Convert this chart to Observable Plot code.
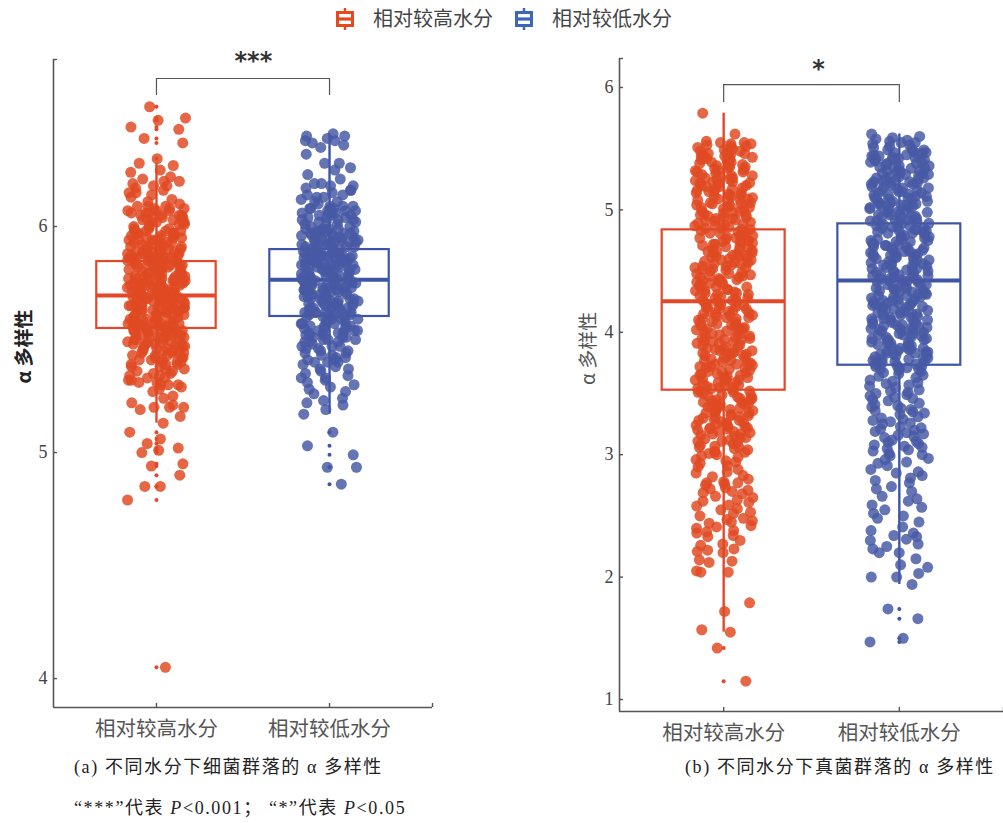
<!DOCTYPE html>
<html>
<head>
<meta charset="utf-8">
<script src="https://cdn.jsdelivr.net/npm/d3@7"></script>
<script src="https://cdn.jsdelivr.net/npm/@observablehq/plot@0.6"></script>
<style>
  html, body { margin: 0; padding: 0; background: #fff; overflow: hidden; }
  #wrap { position: relative; width: 1003px; height: 823px; }
  .abs { position: absolute; white-space: nowrap; }
  .cap { font-family: "Liberation Serif", "Noto Sans CJK SC", serif; font-size: 18px; color: #222; letter-spacing: 1.6px; }
  .cap .cjk { font-family: "Noto Sans CJK SC", sans-serif; }
  .leg { font-family: "Noto Sans CJK SC", sans-serif; font-size: 20px; color: #444; }
</style>
</head>
<body>
<div id="wrap"></div>
<script>
// ---------- data ----------
const groups = ["相对较高水分", "相对较低水分"];
const seriesColors = ["#e04a22", "#4759a5"];
const boxColors = ["#e4472a", "#3d55a5"];
const legendColors = ["#e8481f", "#3a66bb"];

// (a) bacterial alpha diversity
const aHigh = [
6.53,6.48,6.47,6.44,6.43,6.39,6.37,6.30,
6.28,6.27,6.25,6.24,6.22,6.21,6.20,6.20,
6.19,6.18,6.18,6.17,6.16,6.15,6.15,6.14,6.13,6.12,6.11,6.10,
6.09,6.09,6.08,6.08,6.07,6.07,6.06,6.06,6.05,6.05,6.05,6.04,6.04,6.03,6.03,6.02,6.02,6.01,6.01,6.00,6.00,6.07,
5.99,5.99,5.98,5.98,5.97,5.97,5.97,5.96,5.96,5.95,5.95,5.95,5.94,5.94,5.93,5.93,5.93,5.92,5.92,5.91,5.91,5.91,5.90,5.90,5.90,5.96,5.94,5.98,
5.89,5.89,5.89,5.88,5.88,5.88,5.87,5.87,5.87,5.86,5.86,5.86,5.85,5.85,5.85,5.84,5.84,5.84,5.83,5.83,5.83,5.82,5.82,5.82,5.81,5.81,5.81,5.80,5.80,5.80,5.86,5.83,
5.79,5.79,5.79,5.78,5.78,5.78,5.77,5.77,5.77,5.76,5.76,5.76,5.76,5.75,5.75,5.75,5.75,5.74,5.74,5.74,5.73,5.73,5.73,5.73,5.72,5.72,5.72,5.71,5.71,5.71,5.71,5.70,5.70,5.70,
5.69,5.69,5.69,5.69,5.68,5.68,5.68,5.67,5.67,5.67,5.67,5.66,5.66,5.66,5.65,5.65,5.65,5.65,5.64,5.64,5.64,5.63,5.63,5.63,5.63,5.62,5.62,5.62,5.61,5.61,5.61,5.60,5.60,5.60,
5.59,5.59,5.59,5.58,5.58,5.58,5.57,5.57,5.57,5.57,5.56,5.56,5.56,5.55,5.55,5.55,5.54,5.54,5.54,5.54,5.53,5.53,5.53,5.52,5.52,5.52,5.51,5.51,5.51,5.50,5.50,5.50,
5.49,5.49,5.49,5.48,5.48,5.48,5.47,5.47,5.47,5.46,5.46,5.45,5.45,5.45,5.44,5.44,5.44,5.43,5.43,5.42,5.42,5.42,5.41,5.41,5.40,5.40,
5.39,5.39,5.38,5.37,5.37,5.36,5.35,5.35,5.34,5.33,5.33,5.32,5.31,5.31,5.30,5.30,
5.29,5.28,5.27,5.25,5.24,5.22,5.21,5.20,5.20,5.20,
5.19,5.16,5.13,
5.09,5.06,5.04,5.02,5.01,5.00,4.95,4.94,4.90,4.85,4.85,4.79,4.05,
6.09,6.08,6.06,6.05,6.04,6.03,6.02,6.01,
5.99,5.98,5.97,5.96,5.95,5.94,5.93,5.92,5.91,5.90,
5.89,5.88,5.87,5.87,5.86,5.85,5.85,5.84,5.83,5.83,5.82,5.81,5.80,5.88,
5.79,5.78,5.77,5.77,5.76,5.75,5.75,5.74,5.73,5.73,5.72,5.71,5.70,5.78,
5.69,5.68,5.67,5.67,5.66,5.65,5.65,5.64,5.63,5.63,5.62,5.61,5.60,5.68,
5.59,5.58,5.57,5.56,5.56,5.55,5.54,5.53,5.52,5.52,5.51,5.50,
5.49,5.48,5.47,5.46,5.44,5.43,5.41,5.40,
5.39,5.38,5.36,5.34,5.32,5.30];
const aLow = [
6.41,6.40,6.40,6.39,6.38,6.38,6.37,6.36,6.35,6.32,
6.28,6.28,6.26,6.25,6.23,6.21,
6.19,6.18,6.18,6.17,6.16,6.15,6.14,6.14,6.13,6.12,6.11,6.10,
6.09,6.09,6.08,6.08,6.08,6.07,6.07,6.06,6.06,6.06,6.05,6.05,6.04,6.04,6.04,6.03,6.03,6.02,6.02,6.01,6.01,6.00,
5.99,5.99,5.99,5.98,5.98,5.98,5.97,5.97,5.97,5.96,5.96,5.96,5.95,5.95,5.95,5.94,5.94,5.94,5.93,5.93,5.93,5.92,5.92,5.92,5.91,5.91,5.91,5.90,5.90,5.90,
5.89,5.89,5.89,5.88,5.88,5.88,5.88,5.87,5.87,5.87,5.86,5.86,5.86,5.86,5.85,5.85,5.85,5.84,5.84,5.84,5.84,5.83,5.83,5.83,5.82,5.82,5.82,5.82,5.81,5.81,5.81,5.80,5.80,5.80,
5.79,5.79,5.79,5.78,5.78,5.78,5.78,5.77,5.77,5.77,5.76,5.76,5.76,5.76,5.75,5.75,5.75,5.74,5.74,5.74,5.74,5.73,5.73,5.73,5.72,5.72,5.72,5.72,5.71,5.71,5.71,5.70,5.70,5.70,
5.69,5.69,5.69,5.68,5.68,5.68,5.67,5.67,5.67,5.66,5.66,5.66,5.65,5.65,5.65,5.64,5.64,5.64,5.63,5.63,5.63,5.62,5.62,5.62,5.61,5.61,5.61,5.60,5.60,5.60,
5.59,5.59,5.58,5.58,5.57,5.57,5.56,5.56,5.56,5.55,5.55,5.54,5.54,5.53,5.53,5.53,5.52,5.52,5.51,5.51,5.50,5.50,
5.49,5.49,5.48,5.47,5.47,5.46,5.45,5.45,5.44,5.43,5.43,5.42,5.41,5.41,5.40,5.40,
5.39,5.38,5.37,5.37,5.36,5.35,5.34,5.33,5.33,5.32,5.31,5.30,
5.29,5.28,5.27,5.26,5.24,5.23,5.22,5.21,5.19,5.17,
5.09,5.03,4.99,4.935,4.935,4.86,
6.19,6.16,6.13,6.11,
6.09,6.08,6.07,6.06,6.05,6.03,6.02,6.00,
5.99,5.98,5.97,5.97,5.96,5.95,5.94,5.93,5.93,5.92,5.91,5.90,
5.89,5.88,5.87,5.87,5.86,5.85,5.85,5.84,5.83,5.83,5.82,5.81,5.80,5.86,
5.79,5.78,5.77,5.77,5.76,5.75,5.75,5.74,5.73,5.73,5.72,5.71,5.70,5.76,
5.69,5.68,5.67,5.66,5.66,5.65,5.64,5.63,5.62,5.62,5.61,5.60,
5.59,5.58,5.57,5.56,5.55,5.54,5.53,5.52,5.51,5.50,
5.49,5.47,5.46,5.44,5.42,5.40];
const aQ1 = [5.549, 5.602], aMed = [5.695, 5.765], aQ3 = [5.845, 5.898];
const aWLo = [5.13, 5.17], aWHi = [6.28, 6.41];

// (b) fungal alpha diversity
const bHigh = [
5.79,5.62,5.56,5.55,5.55,
5.54,5.54,5.53,5.52,5.52,5.51,5.50,
5.40,5.41,5.41,5.42,5.43,5.44,5.44,5.45,5.46,5.46,5.47,5.48,5.48,5.49,5.45,5.42,
5.30,5.31,5.32,5.32,5.33,5.34,5.35,5.35,5.36,5.37,5.37,5.38,5.39,5.39,5.31,5.34,
5.20,5.20,5.21,5.22,5.23,5.23,5.24,5.25,5.26,5.26,5.27,5.28,5.28,5.29,5.22,5.25,
5.10,5.11,5.11,5.12,5.13,5.14,5.14,5.15,5.16,5.17,5.17,5.18,5.19,5.19,5.12,5.15,
5.00,5.01,5.02,5.02,5.03,5.04,5.05,5.05,5.06,5.07,5.08,5.08,5.09,5.09,5.03,5.06,
4.90,4.91,4.91,4.92,4.93,4.94,4.94,4.95,4.96,4.97,4.97,4.98,4.99,4.99,4.93,4.96,
4.80,4.81,4.82,4.82,4.83,4.84,4.85,4.85,4.86,4.87,4.88,4.88,4.89,4.84,4.81,4.87,
4.70,4.71,4.71,4.72,4.73,4.74,4.74,4.75,4.76,4.77,4.77,4.78,4.79,4.79,4.72,4.75,
4.60,4.61,4.62,4.62,4.63,4.64,4.65,4.65,4.66,4.67,4.68,4.68,4.69,4.63,4.66,4.61,
4.50,4.51,4.51,4.52,4.53,4.54,4.54,4.55,4.56,4.57,4.57,4.58,4.59,4.59,4.53,4.56,
4.40,4.41,4.42,4.42,4.43,4.44,4.45,4.45,4.46,4.47,4.48,4.48,4.49,4.43,4.46,4.41,
4.30,4.31,4.31,4.32,4.33,4.34,4.34,4.35,4.36,4.37,4.37,4.38,4.39,4.39,4.32,4.35,
4.20,4.21,4.22,4.22,4.23,4.24,4.25,4.25,4.26,4.27,4.28,4.28,4.29,4.23,4.26,4.21,
4.10,4.11,4.11,4.12,4.13,4.14,4.14,4.15,4.16,4.17,4.17,4.18,4.19,4.19,4.12,4.15,
4.00,4.01,4.02,4.02,4.03,4.04,4.05,4.05,4.06,4.07,4.08,4.08,4.09,4.03,4.06,4.01,
3.90,3.91,3.91,3.92,3.93,3.94,3.94,3.95,3.96,3.97,3.97,3.98,3.99,3.99,3.92,3.95,
3.80,3.81,3.82,3.82,3.83,3.84,3.85,3.85,3.86,3.87,3.88,3.88,3.89,3.83,3.86,3.81,
3.70,3.71,3.71,3.72,3.73,3.74,3.74,3.75,3.76,3.77,3.77,3.78,3.79,3.79,3.72,3.75,
3.60,3.61,3.62,3.62,3.63,3.64,3.65,3.65,3.66,3.67,3.68,3.68,3.69,3.63,3.66,3.61,
3.50,3.51,3.51,3.52,3.53,3.54,3.54,3.55,3.56,3.57,3.57,3.58,3.59,3.59,3.52,3.55,
3.40,3.41,3.42,3.42,3.43,3.44,3.45,3.45,3.46,3.47,3.48,3.48,3.49,3.43,3.46,3.41,
3.30,3.31,3.31,3.32,3.33,3.34,3.34,3.35,3.36,3.37,3.37,3.38,3.39,3.39,3.32,3.35,
3.20,3.21,3.22,3.22,3.23,3.24,3.25,3.25,3.26,3.27,3.28,3.28,3.29,3.23,3.26,3.21,
3.10,3.11,3.11,3.12,3.13,3.14,3.15,3.16,3.17,3.17,3.18,3.19,3.19,3.14,
3.00,3.01,3.02,3.03,3.04,3.05,3.06,3.06,3.07,3.08,3.09,3.02,
2.90,2.91,2.93,2.94,2.95,2.96,2.98,2.99,
2.88,2.86,2.85,2.83,2.82,2.80,2.78,2.77,2.77,2.76,2.75,2.73,2.72,2.71,2.70,2.69,2.68,2.66,2.65,2.63,2.62,2.61,2.59,2.58,2.56,2.55,2.53,2.52,2.50,
2.48,2.47,2.46,2.45,2.44,2.42,2.41,2.40,2.38,2.37,2.36,2.34,2.33,2.30,2.27,2.26,2.23,2.22,2.21,2.20,2.14,2.13,2.12,2.05,2.04,2.04,
1.79,1.72,1.57,1.55,1.42,1.15];
const bLow = [
5.62,5.60,5.59,5.58,5.57,5.56,5.55,5.55,5.54,5.53,5.52,5.51,5.50,
5.40,5.41,5.41,5.42,5.43,5.43,5.44,5.45,5.45,5.46,5.47,5.47,5.48,5.49,5.49,5.42,5.44,5.46,
5.30,5.30,5.31,5.32,5.32,5.33,5.34,5.34,5.35,5.36,5.36,5.37,5.38,5.38,5.39,5.31,5.35,5.39,
5.20,5.21,5.21,5.22,5.23,5.23,5.24,5.25,5.25,5.26,5.27,5.27,5.28,5.29,5.29,5.22,5.24,5.26,
5.10,5.10,5.11,5.12,5.12,5.13,5.14,5.14,5.15,5.16,5.16,5.17,5.18,5.18,5.19,5.11,5.15,5.19,
5.00,5.01,5.01,5.02,5.03,5.03,5.04,5.05,5.05,5.06,5.07,5.07,5.08,5.09,5.09,5.02,5.04,5.06,
4.90,4.90,4.91,4.92,4.92,4.93,4.94,4.94,4.95,4.96,4.96,4.97,4.98,4.98,4.99,4.91,4.95,4.99,
4.80,4.81,4.81,4.82,4.83,4.83,4.84,4.85,4.85,4.86,4.87,4.87,4.88,4.89,4.89,4.82,4.84,4.86,
4.70,4.70,4.71,4.72,4.72,4.73,4.74,4.74,4.75,4.76,4.76,4.77,4.78,4.78,4.79,4.71,4.75,4.79,
4.60,4.61,4.61,4.62,4.63,4.63,4.64,4.65,4.65,4.66,4.67,4.67,4.68,4.69,4.69,4.62,4.64,4.66,
4.50,4.50,4.51,4.52,4.52,4.53,4.54,4.54,4.55,4.56,4.56,4.57,4.58,4.58,4.59,4.51,4.55,4.59,
4.40,4.41,4.41,4.42,4.43,4.43,4.44,4.45,4.45,4.46,4.47,4.47,4.48,4.49,4.49,4.42,4.44,4.46,
4.30,4.30,4.31,4.32,4.32,4.33,4.34,4.34,4.35,4.36,4.36,4.37,4.38,4.38,4.39,4.31,4.35,4.39,
4.20,4.21,4.21,4.22,4.23,4.23,4.24,4.25,4.25,4.26,4.27,4.27,4.28,4.29,4.29,4.22,4.24,4.26,
4.10,4.10,4.11,4.12,4.12,4.13,4.14,4.14,4.15,4.16,4.16,4.17,4.18,4.18,4.19,4.11,4.15,4.19,
4.00,4.01,4.01,4.02,4.03,4.03,4.04,4.05,4.05,4.06,4.07,4.07,4.08,4.09,4.09,4.02,4.04,4.06,
3.90,3.90,3.91,3.92,3.92,3.93,3.94,3.94,3.95,3.96,3.96,3.97,3.98,3.98,3.99,3.91,3.95,3.99,
3.80,3.81,3.81,3.82,3.83,3.83,3.84,3.85,3.85,3.86,3.87,3.87,3.88,3.89,3.89,3.82,3.84,3.86,
3.70,3.70,3.71,3.72,3.72,3.73,3.74,3.74,3.75,3.76,3.76,3.77,3.78,3.78,3.79,3.71,3.75,3.79,
3.60,3.61,3.63,3.64,3.65,3.66,3.67,3.68,3.69,
3.50,3.51,3.52,3.53,3.55,3.56,3.57,3.58,3.59,
3.40,3.41,3.42,3.44,3.45,3.46,3.47,3.48,3.49,
3.30,3.31,3.33,3.34,3.35,3.36,3.37,3.38,3.39,
3.20,3.21,3.22,3.23,3.25,3.26,3.27,3.28,3.29,
3.10,3.11,3.12,3.14,3.15,3.16,3.17,3.18,3.19,
3.00,3.01,3.03,3.04,3.05,3.06,3.07,3.08,3.09,
2.91,2.93,2.94,2.96,2.97,2.99,
2.88,2.86,2.85,2.83,2.81,2.79,2.77,2.74,2.72,2.70,2.66,2.64,2.62,2.59,2.57,2.55,2.52,2.50,
2.48,2.45,2.41,2.38,2.36,2.34,2.33,2.31,2.30,2.27,2.25,2.23,2.20,2.20,2.15,2.10,2.08,2.03,2.00,2.00,
1.94,1.74,1.66,1.50,1.47];
const bQ1 = [3.527, 3.731], bMed = [4.253, 4.424], bQ3 = [4.837, 4.886];
const bWLo = [1.55, 1.94], bWHi = [5.79, 5.62];

// annotations
const aTicks = [4, 5, 6], bTicks = [1, 2, 3, 4, 5, 6];
const aSig = {label: "***", level: 6.655, foot: 6.58, textX: 0.56, textY: 6.73};
const bSig = {label: "*", level: 6.024, foot: 5.878, textX: 0.54, textY: 6.15};
const yTitle = "α 多样性";

// ---------- helpers ----------
function hash(i, k) {
  const s = Math.sin(i * 12.9898 + k * 78.233 + 3.1) * 43758.5453;
  return s - Math.floor(s);
}
// evenly spread jitter (golden-ratio sequence, lightly perturbed)
function jit(i, k) {
  const u = i * 0.6180339887 + 0.3 * hash(i, k) + k * 0.17;
  return (u - Math.floor(u)) * 2 - 1;
}

function panel(cfg) {
  const [x0, x1] = cfg.xDomain, [y0, y1] = cfg.yDomain;
  const rows = [];
  cfg.values.forEach((vals, g) => vals.forEach((v, i) => rows.push({g, v, x: g + jit(i, g + cfg.seed) * cfg.jitter[g]})));
  const marks = [];
  [0, 1].forEach(g => {
    const c = boxColors[g];
    const out = cfg.values[g].filter(v => v > cfg.wHi[g] + 1e-9 || v < cfg.wLo[g] - 1e-9);
    marks.push(
      Plot.ruleX([g], {y1: cfg.q3[g], y2: cfg.wHi[g], stroke: c, strokeWidth: 2.4}),
      Plot.ruleX([g], {y1: cfg.wLo[g], y2: cfg.q1[g], stroke: c, strokeWidth: 2.4}),
      Plot.rect([g], {x1: d => d - cfg.bw, x2: d => d + cfg.bw, y1: cfg.q1[g], y2: cfg.q3[g], fill: "none", stroke: c, strokeWidth: 2.2}),
      Plot.ruleY([cfg.med[g]], {x1: g - cfg.bw, x2: g + cfg.bw, stroke: c, strokeWidth: 4}),
      Plot.dot(out, {x: g, y: d => d, r: 2, fill: c, stroke: "none"})
    );
  });
  [0, 1].forEach(g => {
    marks.push(Plot.dot(rows.filter(d => d.g === g), {x: "x", y: "v", r: cfg.r, fill: seriesColors[g], fillOpacity: 0.84, stroke: "none"}));
  });
  const ax = "#555";
  marks.push(
    Plot.ruleX([x0], {y1: y0, y2: y1, stroke: ax, strokeWidth: 1.6}),
    Plot.ruleY([y0], {x1: x0, x2: x1, stroke: ax, strokeWidth: 1.6}),
    Plot.ruleY(cfg.ticks.concat([y1]), {x1: x0, x2: x0 + cfg.tx, stroke: ax, strokeWidth: 1.4}),
    Plot.ruleX([0, 1, x1], {y1: y0, y2: y0 + cfg.ty, stroke: ax, strokeWidth: 1.4}),
    Plot.text(cfg.ticks, {x: x0, y: d => d, dx: -6, textAnchor: "end", text: d => String(d), fontSize: 18, fontFamily: "Liberation Serif", fill: "#444"}),
    Plot.text(groups, {x: (d, i) => i, y: y0, dy: 22, text: d => d, fontSize: 20.5, fontFamily: "Noto Sans CJK SC", fill: "#555"}),
    Plot.text([yTitle], {frameAnchor: "left", dx: cfg.titleDx, rotate: -90, fontSize: 19, fontFamily: "Noto Sans CJK SC", fill: cfg.titleColor, fontWeight: cfg.titleWeight}),
    Plot.ruleY([cfg.sig.level], {x1: 0, x2: 1, stroke: "#555", strokeWidth: 1.2}),
    Plot.ruleX([0, 1], {y1: cfg.sig.foot, y2: cfg.sig.level, stroke: "#555", strokeWidth: 1.2}),
    Plot.text([cfg.sig.label], {x: cfg.sig.textX, y: cfg.sig.textY, text: d => d, fontSize: 24, fontWeight: "bold", fontFamily: "DejaVu Sans", fill: "#333"})
  );
  return Plot.plot({
    width: cfg.width, height: cfg.height,
    marginLeft: cfg.ml, marginRight: cfg.mr, marginTop: cfg.mt, marginBottom: cfg.mb,
    x: {type: "linear", domain: cfg.xDomain, axis: null},
    y: {type: "linear", domain: cfg.yDomain, axis: null},
    style: {background: "transparent", overflow: "visible"},
    marks
  });
}

const wrap = document.getElementById("wrap");

const pa = panel({
  values: [aHigh, aLow], q1: aQ1, med: aMed, q3: aQ3, wLo: aWLo, wHi: aWHi,
  xDomain: [-0.595, 1.595], yDomain: [3.872, 6.739],
  width: 480, height: 745, ml: 53, mr: 48, mt: 59, mb: 38,
  bw: 0.345, jitter: [0.168, 0.165], r: 5.5, seed: 1, tx: 0.023, ty: 0.018,
  ticks: aTicks, sig: aSig, titleDx: -29, titleColor: "#222", titleWeight: "bold"
});
pa.style.position = "absolute"; pa.style.left = "0px"; pa.style.top = "0px";
wrap.appendChild(pa);

const pb = panel({
  values: [bHigh, bLow], q1: bQ1, med: bMed, q3: bQ3, wLo: bWLo, wHi: bWHi,
  xDomain: [-0.593, 1.593], yDomain: [0.902, 6.237],
  width: 443, height: 745, ml: 59, mr: 0, mt: 58, mb: 34,
  bw: 0.35, jitter: [0.167, 0.17], r: 5.5, seed: 5, tx: 0.023, ty: 0.033,
  ticks: bTicks, sig: bSig, titleDx: -31, titleColor: "#555", titleWeight: "normal"
});
pb.style.position = "absolute"; pb.style.left = "560px"; pb.style.top = "0px";
wrap.appendChild(pb);

// legend
groups.forEach((g, k) => {
  const c = legendColors[k];
  const left = k === 0 ? 336 : 515;
  const icon = document.createElement("div");
  icon.className = "abs";
  icon.style.left = left + "px"; icon.style.top = "7px";
  icon.innerHTML = `<svg width="18" height="24"><line x1="9" y1="1" x2="9" y2="23" stroke="${c}" stroke-width="2.5"/><rect x="1.5" y="5.5" width="15" height="13" fill="#fff" stroke="${c}" stroke-width="3"/><line x1="1.5" y1="12" x2="16.5" y2="12" stroke="${c}" stroke-width="3.2"/></svg>`;
  wrap.appendChild(icon);
  const t = document.createElement("div");
  t.className = "abs leg";
  t.style.left = (left + 37) + "px"; t.style.top = "3px";
  t.textContent = g;
  wrap.appendChild(t);
});

// captions
function cap(html, left, top) {
  const d = document.createElement("div");
  d.className = "abs cap";
  d.style.left = left + "px"; d.style.top = top + "px";
  d.innerHTML = html;
  wrap.appendChild(d);
}
cap('(a) <span class="cjk">不同水分下细菌群落的</span> α <span class="cjk">多样性</span>', 74, 752);
cap('(b) <span class="cjk">不同水分下真菌群落的</span> α <span class="cjk">多样性</span>', 685, 752);
cap('“***”<span class="cjk">代表</span> <i>P</i>&lt;0.001<span class="cjk">；</span> “*”<span class="cjk">代表</span> <i>P</i>&lt;0.05', 74, 793);
</script>
</body>
</html>
